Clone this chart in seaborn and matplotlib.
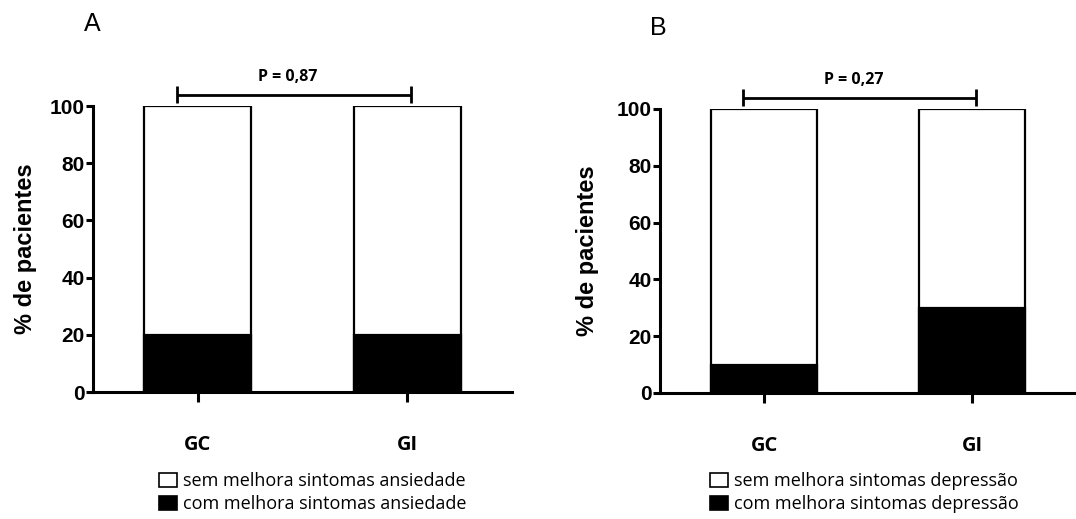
import matplotlib
matplotlib.use("Agg")
import matplotlib.pyplot as plt
import seaborn as sns
import pandas as pd
from matplotlib.patches import Patch

# ---- data ----
categories = ["GC", "GI"]
total_pct = [100, 100]
anx_improved = [20, 20]
dep_improved = [10, 30]
p_labels = ["P = 0,87", "P = 0,27"]
panel_letters = ["A", "B"]
legend_a = ["sem melhora sintomas ansiedade", "com melhora sintomas ansiedade"]
legend_b = ["sem melhora sintomas depressão", "com melhora sintomas depressão"]
yticks = [0, 20, 40, 60, 80, 100]
ylabel = "% de pacientes"

sns.set_theme(style="ticks")
plt.rcParams["font.family"] = ["Liberation Sans", "DejaVu Sans"]
plt.rcParams.update({
    "text.color": "black", "axes.labelcolor": "black", "axes.edgecolor": "black",
    "xtick.color": "black", "ytick.color": "black",
})

W, H = 1076, 519
fig = plt.figure(figsize=(W / 100, H / 100), dpi=100)

def px_axes(x0, x1, ytop, ybot):
    return fig.add_axes([x0 / W, 1 - ybot / H, (x1 - x0) / W, (ybot - ytop) / H])

axA = px_axes(93, 512, 106, 392)
axB = px_axes(660, 1076, 109, 393)

LW = 2.2
panels = [
    (axA, anx_improved, p_labels[0], legend_a, -0.134, (159, 472), panel_letters[0], (84, 24)),
    (axB, dep_improved, p_labels[1], legend_b, -0.147, (710, 472), panel_letters[1], (650, 28)),
]

for ax, improved, ptxt, leg, ylx, legpos, letter, letpos in panels:
    df = pd.DataFrame({"grupo": categories, "total": total_pct, "com": improved})
    sns.barplot(data=df, x="grupo", y="total", color="white", saturation=1,
                edgecolor="black", linewidth=1.6, width=0.51, ax=ax)
    sns.barplot(data=df, x="grupo", y="com", color="black", saturation=1,
                edgecolor="black", linewidth=1.6, width=0.51, ax=ax)
    ax.set_xlim(-0.5, 1.5)
    ax.set_ylim(0, 100)
    ax.set_yticks(yticks)
    ax.set_yticklabels([str(t) for t in yticks], fontsize=15, fontweight="bold")
    ax.set_xticks(range(len(categories)))
    ax.set_xticklabels(categories, fontsize=14.5, fontweight="bold", family=["Open Sans", "DejaVu Sans"])
    ax.set_xlabel("")
    ax.set_ylabel(ylabel, fontsize=17, fontweight="bold")
    ax.yaxis.set_label_coords(ylx, 0.5)
    sns.despine(ax=ax)
    for s in ["left", "bottom"]:
        ax.spines[s].set_linewidth(LW)
        ax.spines[s].set_color("black")
    ax.tick_params(axis="y", length=5, width=LW, pad=1, color="black", labelcolor="black")
    ax.tick_params(axis="x", length=7, width=LW, pad=24, color="black", labelcolor="black")
    ax.set_facecolor("white")

    # significance bracket
    x0, x1, yb = -0.1, 1.02, 103.8
    ax.plot([x0, x1], [yb, yb], color="black", lw=2, clip_on=False, solid_capstyle="butt")
    ax.plot([x0, x0], [101, 107], color="black", lw=2, clip_on=False, solid_capstyle="butt")
    ax.plot([x1, x1], [101, 107], color="black", lw=2, clip_on=False, solid_capstyle="butt")
    ax.text(0.43, 110.1, ptxt, ha="center", va="center", fontsize=11.5, fontweight="bold",
            family=["Open Sans", "DejaVu Sans"], clip_on=False, color="black")

    handles = [Patch(facecolor="white", edgecolor="black", linewidth=1.2, label=leg[0]),
               Patch(facecolor="black", edgecolor="black", linewidth=1.2, label=leg[1])]
    lg = fig.legend(handles=handles, loc="upper left",
                    bbox_to_anchor=(legpos[0] / W, 1 - legpos[1] / H),
                    bbox_transform=fig.transFigure, frameon=False, borderpad=0,
                    borderaxespad=0, handlelength=1.0, handleheight=0.8,
                    handletextpad=0.35, labelspacing=0.3,
                    prop={"family": ["Open Sans", "DejaVu Sans"], "size": 13})
    for t in lg.get_texts():
        t.set_color("black")

    fig.text(letpos[0] / W, 1 - letpos[1] / H, letter, fontsize=18, ha="left", va="center",
             color="black")

fig.savefig("out.png", dpi=100, facecolor="white")
